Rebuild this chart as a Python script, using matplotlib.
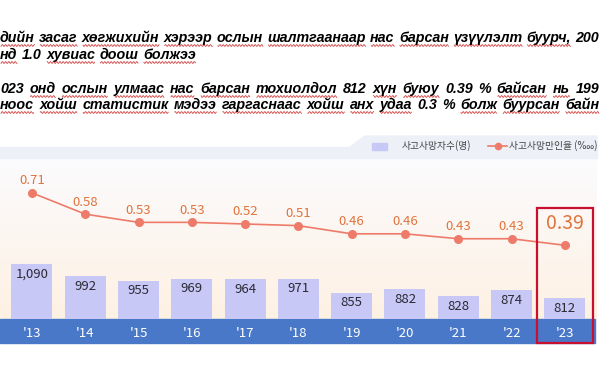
import re
import numpy as np
import matplotlib.pyplot as plt
from matplotlib import font_manager as fm
from matplotlib.patches import Rectangle, Polygon

years = ["'13", "'14", "'15", "'16", "'17", "'18", "'19", "'20", "'21", "'22", "'23"]
deaths = [1090, 992, 955, 969, 964, 971, 855, 882, 828, 874, 812]
rate = [0.71, 0.58, 0.53, 0.53, 0.52, 0.51, 0.46, 0.46, 0.43, 0.43, 0.39]

text_lines = [
    "дийн засаг хөгжихийн хэрээр ослын шалтгаанаар нас барсан үзүүлэлт буурч, 200",
    "нд 1.0 хувиас доош болжээ",
    "023 онд ослын улмаас нас барсан тохиолдол 812 хүн буюу 0.39 % байсан нь 199",
    "ноос хойш статистик мэдээ гаргаснаас хойш анх удаа 0.3 % болж буурсан байн",
]
justified = [True, False, True, True]
legend_labels = ["사고사망자수(명)", "사고사망만인율 (‱)"]

W, H = 600, 367
KR = ['Noto Sans CJK KR', 'DejaVu Sans']
bar_color = '#c8c8f6'
line_color = '#ee7b6a'
label_color = '#e0743c'

fig = plt.figure(figsize=(6, 3.67), dpi=100)
renderer = fig.canvas.get_renderer()


def fx(px):
    return px / W


def fy(py):
    return 1 - py / H


# bold italic font for the paragraph text
bi = [f for f in fm.fontManager.ttflist
      if f.name == 'Liberation Sans' and f.style == 'italic' and f.weight in (700, 'bold')]
if bi:
    para_fp = fm.FontProperties(fname=bi[0].fname, size=10.3)
else:
    para_fp = fm.FontProperties(family='DejaVu Sans', style='oblique', weight='bold', size=9.8)


def text_width(s):
    t = fig.text(0, 0, s, fontproperties=para_fp)
    w = t.get_window_extent(renderer).width
    t.remove()
    return w


def squiggle(x0, x1, y):
    xs = np.arange(x0, x1, 0.5)
    ys = y + 0.9 * np.sin(xs * 2 * np.pi / 3.2)
    fig.lines.append(plt.Line2D(fx(xs), fy(ys), color='#d23a3a', lw=0.6,
                                transform=fig.transFigure))


baselines = [42, 59, 93, 109]
for s, yb, just in zip(text_lines, baselines, justified):
    words = s.split(' ')
    widths = [text_width(w) for w in words]
    gap = 4.5
    if just:
        gap = (599 - sum(widths)) / (len(words) - 1)
    xpos = 0.0
    for w, wd in zip(words, widths):
        fig.text(fx(xpos), fy(yb), w, fontproperties=para_fp, va='baseline',
                 ha='left', color='black')
        if re.search('[а-яөүА-ЯӨҮ]', w):
            squiggle(xpos + 1, min(xpos + wd, 600), yb + 3.5)
        xpos += wd + gap

# background panel
fig.patches.append(Rectangle((fx(0), fy(158)), fx(597), (158 - 147) / H,
                             transform=fig.transFigure, color='#eef0f8', zorder=0))
fig.patches.append(Polygon([(fx(350), fy(147)), (fx(365), fy(136)), (fx(597), fy(136)),
                            (fx(597), fy(147))], closed=True,
                           transform=fig.transFigure, color='#eef0f8', zorder=0))

grad_ax = fig.add_axes([fx(0), fy(319), fx(597), (319 - 158) / H], zorder=0)
grad = np.linspace(0, 1, 256).reshape(-1, 1)
top_c = np.array([0.985, 0.985, 0.995])
bot_c = np.array([0.995, 0.945, 0.89])
img = top_c[None, None, :] * (1 - grad[:, :, None]) + bot_c[None, None, :] * grad[:, :, None]
grad_ax.imshow(img, aspect='auto', extent=[0, 1, 0, 1])
grad_ax.axis('off')

# blue band
fig.patches.append(Rectangle((fx(0), fy(343)), fx(595), (343 - 319) / H,
                             transform=fig.transFigure, color='#4a78c8', zorder=1))

# main axes
ax = fig.add_axes([fx(0), fy(319), 1.0, (319 - 147) / H], zorder=2)
ax.patch.set_alpha(0)
x = np.arange(len(years))
ax.bar(x, deaths, width=0.77, color=bar_color, zorder=2)
ax.set_xlim(-0.6, 10.66)
ax.set_ylim(640, 2050)
for xi, d in zip(x, deaths):
    ax.annotate(f'{d:,}', (xi, d), xytext=(0, -10), textcoords='offset pixels',
                ha='center', va='center', fontsize=9.5, color='#2a2a35', family=KR)
ax.set_xticks(x)
ax.set_xticklabels(years, color='white', fontsize=9.5, family=KR)
ax.tick_params(axis='x', length=0, pad=6)
ax.set_yticks([])
for sp in ax.spines.values():
    sp.set_visible(False)

ax2 = ax.twinx()
ax2.plot(x, rate, color=line_color, lw=1.2, marker='o', markersize=5.5, zorder=3)
ax2.set_ylim(-0.06, 0.99)
for i, (xi, r) in enumerate(zip(x, rate)):
    if i == len(rate) - 1:
        ax2.annotate(f'{r:.2f}', (xi, r), xytext=(0, 22), textcoords='offset pixels',
                     ha='center', va='center', fontsize=14, color=label_color, family=KR)
    else:
        ax2.annotate(f'{r:.2f}', (xi, r), xytext=(0, 12), textcoords='offset pixels',
                     ha='center', va='center', fontsize=9.5, color=label_color, family=KR)
ax2.set_yticks([])
for sp in ax2.spines.values():
    sp.set_visible(False)

# highlight box around the last year
fig.patches.append(Rectangle((fx(537), fy(343)), fx(593 - 537), (343 - 208) / H,
                             transform=fig.transFigure, fill=False,
                             edgecolor='#c8102e', lw=1.6, zorder=5))

# legend
fig.patches.append(Rectangle((fx(372), fy(150)), fx(15), 7 / H,
                             transform=fig.transFigure, color=bar_color, zorder=3))
fig.text(fx(402), fy(146), legend_labels[0], fontsize=7, family=KR, va='center',
         ha='left', color='#444444')
fig.lines.append(plt.Line2D([fx(488), fx(507)], [fy(146), fy(146)], color=line_color,
                            lw=1.2, transform=fig.transFigure, zorder=3))
fig.lines.append(plt.Line2D([fx(497.5)], [fy(146)], color=line_color, marker='o',
                            markersize=4.5, transform=fig.transFigure, zorder=3))
fig.text(fx(509), fy(146), legend_labels[1], fontsize=7, family=KR, va='center',
         ha='left', color='#444444')

fig.savefig('out.png', dpi=100)
